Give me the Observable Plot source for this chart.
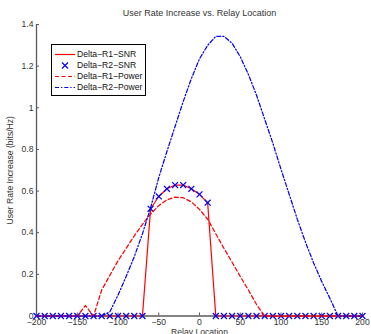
<!DOCTYPE html>
<html><head><meta charset="utf-8">
<script src="https://cdn.jsdelivr.net/npm/d3@7"></script>
<script src="https://cdn.jsdelivr.net/npm/@observablehq/plot@0.6"></script>
<style>
html,body{margin:0;padding:0;background:#fff;}
#wrap{position:relative;width:371px;height:334px;overflow:hidden;font-family:"Liberation Sans",Arial,sans-serif;}
#legend{position:absolute;left:51px;top:44px;width:95px;height:52px;border:1px solid #000;background:#fff;box-sizing:border-box;font-size:8.6px;color:#111;}
.row{position:absolute;left:0;width:100%;height:11px;}
.row svg{position:absolute;left:3px;top:0;}
.row span{position:absolute;left:25px;top:0;line-height:11px;white-space:nowrap;}
</style></head><body><div id="wrap"></div>
<script>
const relayLocation = [-200,-190,-180,-170,-160,-150,-140,-130,-120,-110,-100,-90,-80,-70,-60,-50,-40,-30,-20,-10,0,10,20,30,40,50,60,70,80,90,100,110,120,130,140,150,160,170,180,190,200];
const deltaR1SNR = [0,0,0,0,0,0,0,0,0,0,0,0,0,0,0.515,0.574,0.611,0.629,0.629,0.611,0.584,0.544,0,0,0,0,0,0,0,0,0,0,0,0,0,0,0,0,0,0,0];
const deltaR2SNR = [0,0,0,0,0,0,0,0,0,0,0,0,0,0,0.515,0.574,0.611,0.629,0.629,0.611,0.584,0.544,0,0,0,0,0,0,0,0,0,0,0,0,0,0,0,0,0,0,0];
const deltaR1Power = [0,0,0,0,0,0,0.05,0,0.125,0.195,0.265,0.325,0.385,0.44,0.49,0.53,0.558,0.571,0.568,0.548,0.512,0.465,0.395,0.325,0.258,0.19,0.125,0.055,0,0,0,0,0,0,0,0,0,0,0,0,0];
const deltaR2Power = [0,0,0,0,0,0,0,0,0,0.02,0.1,0.19,0.285,0.395,0.52,0.665,0.79,0.91,1.03,1.14,1.235,1.3,1.343,1.343,1.31,1.245,1.16,1.06,0.945,0.83,0.705,0.585,0.465,0.355,0.255,0.165,0.085,0,0,0,0];
const xTicks = [-200,-150,-100,-50,0,50,100,150,200];
const yTicks = [0,0.2,0.4,0.6,0.8,1,1.2,1.4];
const yTickLabels = ["0","0.2","0.4","0.6","0.8","1","1.2","1.4"];
const seriesNames = ["Delta\u2212R1\u2212SNR","Delta\u2212R2\u2212SNR","Delta\u2212R1\u2212Power","Delta\u2212R2\u2212Power"];
const titleText = "User Rate Increase vs. Relay Location";
const xLabel = "Relay Location";
const yLabel = "User Rate Increase (bits/Hz)";

const rows = relayLocation.map((x, i) => ({x, r1s: deltaR1SNR[i], r2s: deltaR2SNR[i], r1p: deltaR1Power[i], r2p: deltaR2Power[i]}));
const axisColor = "#5a5a5a";
const textColor = "#333";

const chart = Plot.plot({
  width: 371, height: 334,
  marginLeft: 36, marginRight: 9, marginTop: 24, marginBottom: 18.5,
  style: {fontFamily: "'Liberation Sans', Arial, sans-serif", fontSize: "8.6px", color: textColor, background: "#fff", overflow: "visible"},
  x: {domain: [-200, 200]},
  y: {domain: [0, 1.4]},
  marks: [
    Plot.axisX({ticks: xTicks, tickSize: 0, tickPadding: 2.5, label: xLabel, labelAnchor: "center", labelOffset: 19, labelArrow: "none", fill: textColor}),
    Plot.axisX({ticks: xTicks, tickSize: -3, tickFormat: () => "", label: null, stroke: axisColor}),
    Plot.axisY({ticks: yTicks, tickSize: 0, tickPadding: 3, tickFormat: (d) => yTickLabels[yTicks.indexOf(d)], label: yLabel, labelAnchor: "center", labelOffset: 30, labelArrow: "none", fill: textColor}),
    Plot.axisY({ticks: yTicks, tickSize: -3, tickFormat: () => "", label: null, stroke: axisColor}),
    Plot.ruleX([-200], {stroke: axisColor, strokeWidth: 1.3}),
    Plot.ruleY([0], {stroke: axisColor, strokeWidth: 1.3}),
    Plot.line(rows, {x: "x", y: "r1s", stroke: "#ff0000", strokeWidth: 1.2}),
    Plot.dot(rows, {x: "x", y: "r2s", symbol: "times", r: 2.8, stroke: "#0000ff", strokeWidth: 1.2}),
    Plot.line(rows, {x: "x", y: "r1p", stroke: "#ff0000", strokeWidth: 1.25, strokeDasharray: "4,2.5"}),
    Plot.line(rows, {x: "x", y: "r2p", stroke: "#0000ff", strokeWidth: 1.25, strokeDasharray: "4,2,1.3,2"}),
    Plot.text([titleText], {frameAnchor: "top", lineAnchor: "middle", dy: -11, fontSize: 9, fill: textColor})
  ]
});
const wrap = document.getElementById("wrap");
wrap.appendChild(chart);

// legend
const legend = document.createElement("div");
legend.id = "legend";
const samples = [
  '<line x1="0" y1="5.5" x2="20" y2="5.5" stroke="#ff0000" stroke-width="1.2"/>',
  '<path d="M7,2.5L13,8.5M13,2.5L7,8.5" stroke="#0000ff" stroke-width="1.2"/>',
  '<line x1="0" y1="5.5" x2="20" y2="5.5" stroke="#ff0000" stroke-width="1.2" stroke-dasharray="4,2.5"/>',
  '<line x1="0" y1="5.5" x2="20" y2="5.5" stroke="#0000ff" stroke-width="1.2" stroke-dasharray="4,2,1.3,2"/>'
];
seriesNames.forEach((name, i) => {
  const r = document.createElement("div");
  r.className = "row";
  r.style.top = (3.8 + i * 11.2) + "px";
  r.innerHTML = '<svg width="20" height="11">' + samples[i] + '</svg><span></span>';
  r.querySelector("span").textContent = name;
  legend.appendChild(r);
});
wrap.appendChild(legend);
</script>
</body></html>
